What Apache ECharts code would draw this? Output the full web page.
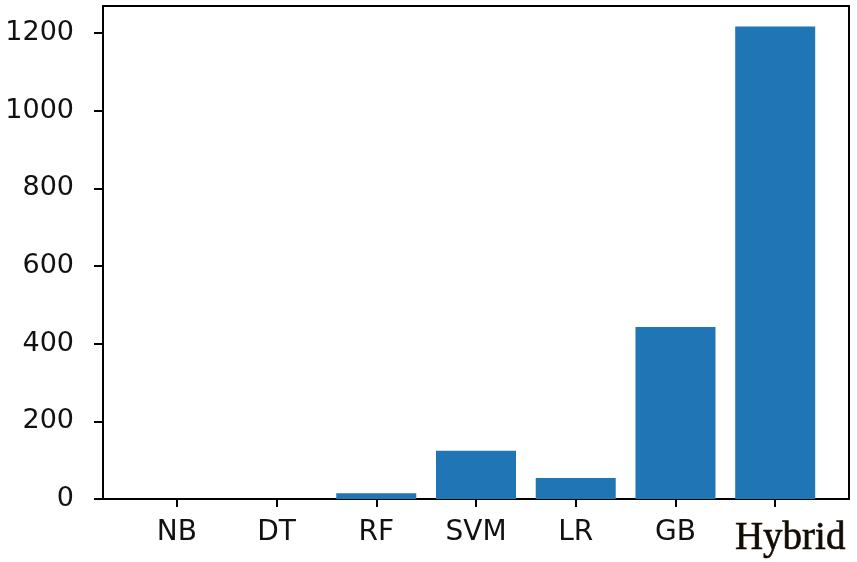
<!DOCTYPE html>
<html>
<head>
<meta charset="utf-8">
<script src="https://cdn.jsdelivr.net/npm/echarts@6/dist/echarts.min.js"></script>
<style>html,body{margin:0;padding:0;background:#fff;}#c{width:857px;height:562px;}</style>
</head>
<body>
<div id="c"></div>
<script>
const categories = ['NB', 'DT', 'RF', 'SVM', 'LR', 'GB', 'Hybrid'];
const values = [0, 0, 15, 124, 54, 443, 1217];
const yTicks = [0, 200, 400, 600, 800, 1000, 1200];

const chart = echarts.init(document.getElementById('c'));
const positions = categories.map((c, i) => i);
chart.setOption({
  animation: false,
  grid: { left: 103, right: 8, top: 6, bottom: 63, show: true, borderColor: '#000', borderWidth: 2, backgroundColor: 'transparent' },
  xAxis: {
    type: 'value', min: -0.74, max: 6.74,
    splitLine: { show: false },
    axisLine: { show: true, onZero: false, lineStyle: { color: '#000', width: 2 } },
    axisTick: { show: true, customValues: positions, length: 8, lineStyle: { color: '#000', width: 2 } },
    axisLabel: {
      customValues: positions, margin: 20,
      formatter: v => {
        const name = categories[Math.round(v)];
        return name === 'Hybrid' ? '{h|' + name + '}' : '{n|' + name + '}';
      },
      rich: {
        n: { fontFamily: 'DejaVu Sans', fontSize: 28, color: '#111' },
        h: { fontFamily: 'Liberation Serif', fontSize: 39, color: '#120c04', fontWeight: 'normal', textBorderColor: '#120c04', textBorderWidth: 0.6, padding: [0, 0, 0, 30] }
      }
    }
  },
  yAxis: {
    type: 'value', min: 0, max: 1270,
    splitLine: { show: false },
    axisLine: { show: true, onZero: false, lineStyle: { color: '#000', width: 2 } },
    axisTick: { show: true, customValues: yTicks, length: 9, lineStyle: { color: '#000', width: 2 } },
    axisLabel: { customValues: yTicks, margin: 29, formatter: v => String(v), fontFamily: 'DejaVu Sans', fontSize: 27, color: '#111' }
  },
  series: [{
    type: 'bar',
    data: values.map((v, i) => [i, v]),
    barWidth: 80,
    itemStyle: { color: '#2076b4' }
  }]
});
</script>
</body>
</html>
